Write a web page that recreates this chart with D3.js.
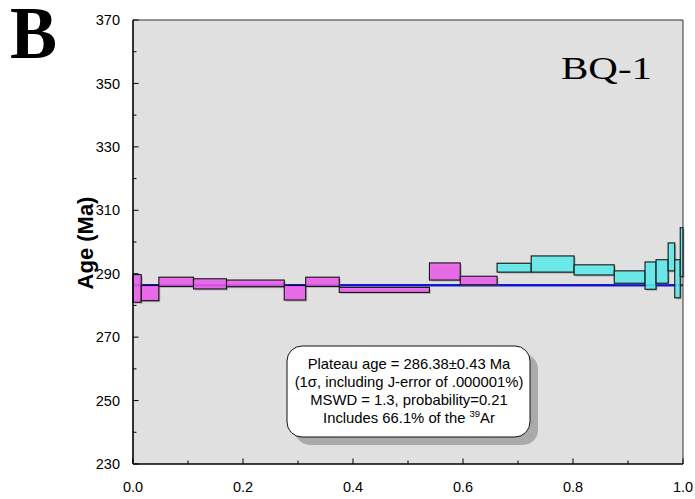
<!DOCTYPE html>
<html>
<head>
<meta charset="utf-8">
<script src="https://cdn.jsdelivr.net/npm/d3@7"></script>
<style>
  body { margin: 0; background: #fff; }
  svg { display: block; }
</style>
</head>
<body>
<div id="chart"></div>
<script>
var WIDTH = 695;
var HEIGHT = 499;
var MARGIN = { top: 20, right: 12, bottom: 35, left: 133 };

// cumulative 39Ar fraction at the step boundaries
var stepEdges = [0, 0.015, 0.047, 0.110, 0.170, 0.275, 0.314, 0.375, 0.539, 0.595,
  0.662, 0.724, 0.802, 0.875, 0.931, 0.951, 0.973, 0.985, 0.995, 1.0];
// apparent age range (Ma) per step
var ageHigh = [289.7, 286.3, 288.9, 288.4, 288.0, 286.3, 288.9, 285.7, 293.4, 289.2,
  293.3, 295.6, 292.8, 290.9, 293.7, 294.4, 299.7, 294.4, 304.5];
var ageLow = [281.0, 281.5, 286.0, 285.2, 285.9, 281.7, 286.0, 284.1, 288.0, 286.5,
  290.5, 290.5, 289.6, 287.0, 285.1, 287.0, 290.9, 282.4, 289.1];
// true if the step is part of the plateau
var inPlateau = [1, 1, 1, 1, 1, 1, 1, 1, 1, 1, 0, 0, 0, 0, 0, 0, 0, 0, 0];

var plateauAge = 286.38;
var xTicks = [0, 0.2, 0.4, 0.6, 0.8, 1.0];
var yTicks = [230, 250, 270, 290, 310, 330, 350, 370];
var infoLines = [
  "Plateau age = 286.38\u00b10.43 Ma",
  "(1\u03c3, including J-error of .000001%)",
  "MSWD = 1.3, probability=0.21",
  "Includes 66.1% of the "
];

var innerW = WIDTH - MARGIN.left - MARGIN.right;
var innerH = HEIGHT - MARGIN.top - MARGIN.bottom;

var svg = d3.select("#chart").append("svg")
  .attr("width", WIDTH)
  .attr("height", HEIGHT);

var x = d3.scaleLinear().domain([0, 1]).range([0, innerW]);
var y = d3.scaleLinear().domain([230, 370]).range([innerH, 0]);

var plot = svg.append("g")
  .attr("transform", "translate(" + MARGIN.left + "," + MARGIN.top + ")");

// plot background
plot.append("rect")
  .attr("width", innerW)
  .attr("height", innerH)
  .attr("fill", "#e0e0e0");

// plateau age line (drawn under the steps)
plot.append("line")
  .attr("x1", x(0)).attr("x2", x(1))
  .attr("y1", y(plateauAge)).attr("y2", y(plateauAge))
  .attr("stroke", "#1418d2")
  .attr("stroke-width", 2.6);

var steps = d3.range(ageHigh.length).map(function(i) {
  return { x0: stepEdges[i], x1: stepEdges[i + 1], hi: ageHigh[i], lo: ageLow[i], plateau: inPlateau[i] };
});

// step boxes with a small drop shadow
var g = plot.selectAll(".step").data(steps).enter().append("g").attr("class", "step");
g.append("rect")
  .attr("x", function(d) { return x(d.x0) + 1.5; })
  .attr("y", function(d) { return y(d.hi) + 1.5; })
  .attr("width", function(d) { return x(d.x1) - x(d.x0); })
  .attr("height", function(d) { return y(d.lo) - y(d.hi); })
  .attr("fill", "#777")
  .attr("opacity", 0.45);
g.append("rect")
  .attr("x", function(d) { return x(d.x0); })
  .attr("y", function(d) { return y(d.hi); })
  .attr("width", function(d) { return x(d.x1) - x(d.x0); })
  .attr("height", function(d) { return y(d.lo) - y(d.hi); })
  .attr("fill", function(d) { return d.plateau ? "rgb(243,92,243)" : "rgb(92,243,243)"; })
  .attr("fill-opacity", 0.82)
  .attr("stroke", "#111")
  .attr("stroke-width", 1.1);

// frame: top and right thin, axes thicker
plot.append("path")
  .attr("d", "M0,0H" + innerW + "V" + innerH)
  .attr("fill", "none")
  .attr("stroke", "#333")
  .attr("stroke-width", 1);

// x axis
var xAxis = plot.append("g").attr("transform", "translate(0," + innerH + ")");
xAxis.append("line").attr("x1", 0).attr("x2", innerW)
  .attr("stroke", "#000").attr("stroke-width", 1.6);
xAxis.selectAll(".minor").data(d3.range(0.1, 1, 0.2)).enter().append("line")
  .attr("x1", function(d) { return x(d); }).attr("x2", function(d) { return x(d); })
  .attr("y1", 0).attr("y2", -3.5).attr("stroke", "#000");
xAxis.selectAll(".major").data(xTicks).enter().append("line")
  .attr("x1", function(d) { return x(d); }).attr("x2", function(d) { return x(d); })
  .attr("y1", 0).attr("y2", -5.5).attr("stroke", "#000");
xAxis.selectAll("text").data(xTicks).enter().append("text")
  .attr("x", function(d) { return x(d); })
  .attr("y", 27.5)
  .attr("text-anchor", "middle")
  .attr("font-family", "Liberation Sans, Arial, sans-serif")
  .attr("font-size", 14.5)
  .text(function(d) { return d3.format(".1f")(d); });

// y axis
var yAxis = plot.append("g");
yAxis.append("line").attr("y1", 0).attr("y2", innerH)
  .attr("stroke", "#000").attr("stroke-width", 1.6);
yAxis.selectAll(".minor").data(d3.range(240, 370, 20)).enter().append("line")
  .attr("y1", function(d) { return y(d); }).attr("y2", function(d) { return y(d); })
  .attr("x1", 0).attr("x2", 3.5).attr("stroke", "#000");
yAxis.selectAll(".major").data(yTicks).enter().append("line")
  .attr("y1", function(d) { return y(d); }).attr("y2", function(d) { return y(d); })
  .attr("x1", 0).attr("x2", 5.5).attr("stroke", "#000");
yAxis.selectAll("text").data(yTicks).enter().append("text")
  .attr("x", -13)
  .attr("y", function(d) { return y(d); })
  .attr("dy", "0.35em")
  .attr("text-anchor", "end")
  .attr("font-family", "Liberation Sans, Arial, sans-serif")
  .attr("font-size", 14.5)
  .text(function(d) { return d; });

// y axis title
svg.append("text")
  .attr("transform", "translate(93,243) rotate(-90)")
  .attr("text-anchor", "middle")
  .attr("font-family", "Liberation Sans, Arial, sans-serif")
  .attr("font-weight", "bold")
  .attr("font-size", 22)
  .text("Age (Ma)");

// panel letter and sample name
svg.append("text")
  .attr("x", 10).attr("y", 58)
  .attr("font-family", "Liberation Serif, Times New Roman, serif")
  .attr("font-weight", "bold")
  .attr("font-size", 74)
  .attr("textLength", 47)
  .attr("lengthAdjust", "spacingAndGlyphs")
  .text("B");
svg.append("text")
  .attr("x", 561).attr("y", 78.5)
  .attr("font-family", "Liberation Serif, Times New Roman, serif")
  .attr("font-size", 31)
  .attr("textLength", 91)
  .attr("lengthAdjust", "spacingAndGlyphs")
  .text("BQ-1");

// plateau info box
var box = svg.append("g");
box.append("rect")
  .attr("x", 295).attr("y", 354).attr("width", 243).attr("height", 91)
  .attr("rx", 15).attr("fill", "#aaa");
box.append("rect")
  .attr("x", 287).attr("y", 346).attr("width", 243).attr("height", 91)
  .attr("rx", 15).attr("fill", "#fff")
  .attr("stroke", "#111").attr("stroke-width", 1);
var lines = box.selectAll("text").data(infoLines).enter().append("text")
  .attr("x", 409)
  .attr("y", function(d, i) { return 368.5 + i * 18.3; })
  .attr("text-anchor", "middle")
  .attr("font-family", "Liberation Sans, Arial, sans-serif")
  .attr("font-size", 14.8)
  .text(function(d) { return d; });
var last = d3.select(lines.nodes()[3]);
last.append("tspan").attr("font-size", 9.5).attr("dy", -6).text("39");
last.append("tspan").attr("dy", 6).text("Ar");
</script>
</body>
</html>
